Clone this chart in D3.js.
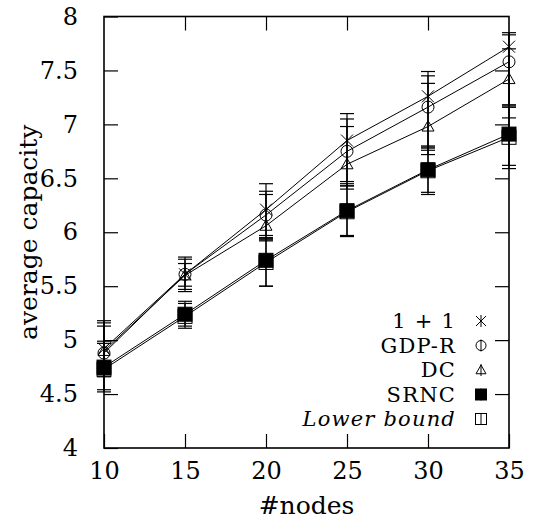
<!DOCTYPE html>
<html>
<head>
<meta charset="utf-8">
<script src="https://cdn.jsdelivr.net/npm/d3@7"></script>
<style>
  html, body { margin: 0; padding: 0; background: #fff; }
  svg text { font-family: "DejaVu Serif", "Liberation Serif", serif; fill: #000; }
</style>
</head>
<body>
<div id="chart"></div>
<script>
'use strict';

// x values (#nodes)
var nodes = [10, 15, 20, 25, 30, 35];

// mean values per series
var oneplusone = [4.92, 5.61, 6.21, 6.85, 7.26, 7.72];
var gdpr       = [4.88, 5.61, 6.16, 6.75, 7.16, 7.58];
var dc         = [4.90, 5.60, 6.06, 6.63, 6.98, 7.42];
var srnc       = [4.75, 5.24, 5.74, 6.20, 6.58, 6.91];
var lowerBound = [4.73, 5.22, 5.72, 6.19, 6.57, 6.88];

// error bar ends (low / high)
var oneplusoneLo = [4.68, 5.50, 5.97, 6.47, 6.79, 7.18];
var oneplusoneHi = [5.18, 5.77, 6.45, 7.10, 7.49, 7.85];
var gdprLo       = [4.66, 5.47, 5.94, 6.43, 6.76, 7.16];
var gdprHi       = [5.16, 5.75, 6.38, 7.05, 7.45, 7.83];
var dcLo         = [4.68, 5.45, 5.92, 6.40, 6.72, 7.06];
var dcHi         = [5.13, 5.71, 6.35, 6.98, 7.38, 7.70];
var srncLo       = [4.54, 5.13, 5.50, 5.97, 6.37, 6.62];
var srncHi       = [4.99, 5.36, 5.95, 6.45, 6.80, 7.18];
var lowerBoundLo = [4.52, 5.11, 5.50, 5.96, 6.35, 6.59];
var lowerBoundHi = [4.97, 5.34, 5.93, 6.43, 6.78, 7.16];

var seriesNames = ['1 + 1', 'GDP-R', 'DC', 'SRNC', 'Lower bound'];
var markers = ['cross', 'circle', 'triangle', 'filled', 'square'];

var xTicks = [10, 15, 20, 25, 30, 35];
var yTicks = [4, 4.5, 5, 5.5, 6, 6.5, 7, 7.5, 8];

var series = [
    {name: seriesNames[0], mean: oneplusone, lo: oneplusoneLo, hi: oneplusoneHi, marker: markers[0]},
    {name: seriesNames[1], mean: gdpr, lo: gdprLo, hi: gdprHi, marker: markers[1]},
    {name: seriesNames[2], mean: dc, lo: dcLo, hi: dcHi, marker: markers[2]},
    {name: seriesNames[3], mean: srnc, lo: srncLo, hi: srncHi, marker: markers[3]},
    {name: seriesNames[4], mean: lowerBound, lo: lowerBoundLo, hi: lowerBoundHi, marker: markers[4]}
];

var stage = {width: 533, height: 523, left: 104, right: 509, top: 16.5, bottom: 448};
var fontSize = 24, titleSize = 25, legendSize = 21;

var svg = d3.select('#chart').append('svg')
    .attr('width', stage.width)
    .attr('height', stage.height)
    .attr('xmlns', 'http://www.w3.org/2000/svg');

var x = d3.scaleLinear().domain([10, 35]).range([stage.left, stage.right]);
var y = d3.scaleLinear().domain([4, 8]).range([stage.bottom, stage.top]);

// AXES (ticks point inward, mirrored on top/right)
var fmt = d3.format('~g');
function styleAxis(g) {
    g.select('.domain').remove();
    g.selectAll('line').attr('stroke', '#000').attr('stroke-width', 1.2);
    g.selectAll('text').attr('font-size', fontSize).attr('font-family', null);
}

svg.append('g')
    .attr('transform', 'translate(0,' + stage.bottom + ')')
    .call(d3.axisBottom(x).tickValues(xTicks).tickFormat(fmt).tickSizeInner(-14).tickSizeOuter(0).tickPadding(14))
    .call(styleAxis);

svg.append('g')
    .attr('transform', 'translate(' + stage.left + ',0)')
    .call(d3.axisLeft(y).tickValues(yTicks).tickFormat(fmt).tickSizeInner(-14).tickSizeOuter(0).tickPadding(26))
    .call(styleAxis);

svg.append('g')
    .attr('transform', 'translate(0,' + stage.top + ')')
    .call(d3.axisTop(x).tickValues(xTicks.slice(1, -1)).tickFormat('').tickSizeInner(-14).tickSizeOuter(0))
    .call(styleAxis);

svg.append('g')
    .attr('transform', 'translate(' + stage.right + ',0)')
    .call(d3.axisRight(y).tickValues(yTicks.slice(1, -1)).tickFormat('').tickSizeInner(-14).tickSizeOuter(0))
    .call(styleAxis);

// frame
svg.append('rect')
    .attr('x', stage.left).attr('y', stage.top)
    .attr('width', stage.right - stage.left).attr('height', stage.bottom - stage.top)
    .attr('fill', 'none').attr('stroke', '#000').attr('stroke-width', 1.6);

// axis titles
svg.append('text')
    .attr('x', (stage.left + stage.right) / 2).attr('y', 514)
    .attr('text-anchor', 'middle').attr('font-size', titleSize)
    .text('#nodes');

svg.append('text')
    .attr('transform', 'translate(37,' + ((stage.top + stage.bottom) / 2) + ') rotate(-90)')
    .attr('text-anchor', 'middle').attr('font-size', titleSize)
    .text('average capacity');

// MARKERS
function drawMarker(g, type, cx, cy, s) {
    if (type === 'cross') {
        g.append('path')
            .attr('d', 'M' + (cx - s) + ',' + (cy - s) + 'L' + (cx + s) + ',' + (cy + s) +
                       'M' + (cx - s) + ',' + (cy + s) + 'L' + (cx + s) + ',' + (cy - s))
            .attr('stroke', '#000').attr('stroke-width', 1);
    } else if (type === 'circle') {
        g.append('circle').attr('cx', cx).attr('cy', cy).attr('r', s)
            .attr('fill', 'none').attr('stroke', '#000').attr('stroke-width', 1);
    } else if (type === 'triangle') {
        g.append('path')
            .attr('d', 'M' + cx + ',' + (cy - s) + 'L' + (cx + s) + ',' + (cy + s * 0.75) +
                       'L' + (cx - s) + ',' + (cy + s * 0.75) + 'Z')
            .attr('fill', 'none').attr('stroke', '#000').attr('stroke-width', 1);
    } else {
        g.append('rect').attr('x', cx - s).attr('y', cy - s)
            .attr('width', 2 * s).attr('height', 2 * s)
            .attr('fill', type === 'filled' ? '#000' : 'none')
            .attr('stroke', '#000').attr('stroke-width', 1);
    }
}

var line = d3.line()
    .x(function(d) { return x(d.x); })
    .y(function(d) { return y(d.y); });

series.forEach(function(s) {
    var pts = nodes.map(function(n, i) {
        return {x: n, y: s.mean[i], lo: s.lo[i], hi: s.hi[i]};
    });
    var g = svg.append('g').attr('class', 'series');

    g.append('path')
        .datum(pts)
        .attr('d', line)
        .attr('fill', 'none')
        .attr('stroke', '#000')
        .attr('stroke-width', 1);

    // error bars
    var eb = g.selectAll('g.eb').data(pts).enter().append('g').attr('class', 'eb');
    eb.append('line')
        .attr('x1', function(d) { return x(d.x); })
        .attr('x2', function(d) { return x(d.x); })
        .attr('y1', function(d) { return y(d.lo); })
        .attr('y2', function(d) { return y(d.hi); })
        .attr('stroke', '#000').attr('stroke-width', 1.2);
    ['lo', 'hi'].forEach(function(k) {
        eb.append('line')
            .attr('x1', function(d) { return x(d.x) - 7; })
            .attr('x2', function(d) { return x(d.x) + 7; })
            .attr('y1', function(d) { return y(d[k]); })
            .attr('y2', function(d) { return y(d[k]); })
            .attr('stroke', '#000').attr('stroke-width', 1.2);
    });

    pts.forEach(function(d) {
        drawMarker(g, s.marker, x(d.x), y(d.y), s.marker === 'filled' || s.marker === 'square' ? 7 : 6);
    });
});

// LEGEND
var legendTextX = 456, legendSymX = 481, legendY0 = 328, legendStep = 24.5;
series.forEach(function(s, i) {
    var ly = legendY0 + i * legendStep;
    svg.append('text')
        .attr('x', legendTextX).attr('y', ly)
        .attr('text-anchor', 'end').attr('font-size', legendSize)
        .attr('letter-spacing', 1.2)
        .attr('font-style', i === 4 ? 'italic' : null)
        .text(s.name);
    var cy = ly - 7;
    var lg = svg.append('g');
    lg.append('line')
        .attr('x1', legendSymX).attr('x2', legendSymX)
        .attr('y1', cy - 6).attr('y2', cy + 6)
        .attr('stroke', '#000').attr('stroke-width', 1);
    drawMarker(lg, s.marker, legendSymX, cy, s.marker === 'filled' || s.marker === 'square' ? 5.5 : 5);
});
</script>
</body>
</html>
